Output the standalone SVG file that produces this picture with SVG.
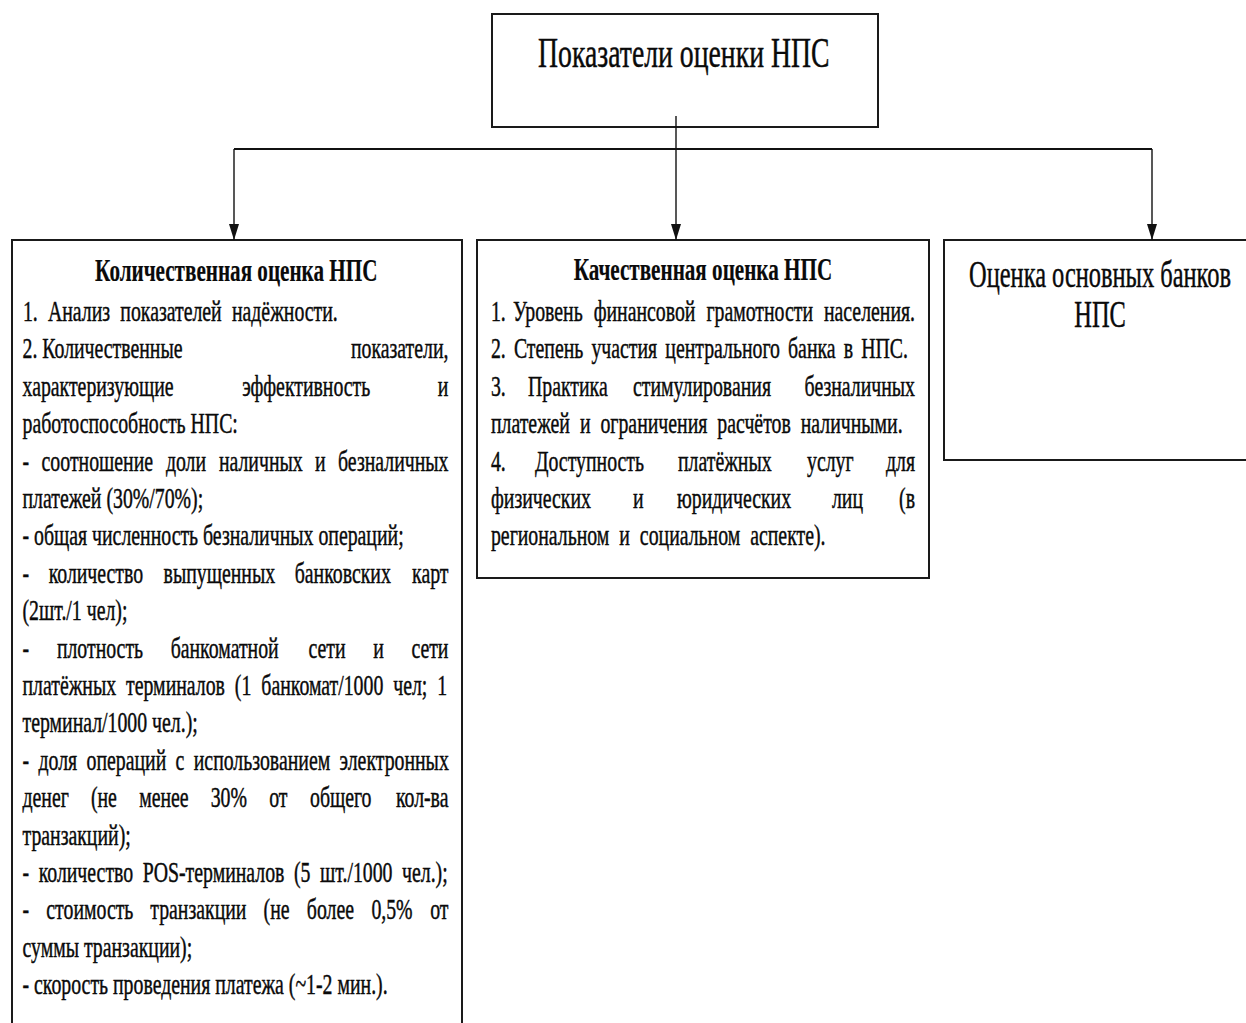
<svg xmlns="http://www.w3.org/2000/svg" width="1246" height="1023" viewBox="0 0 1246 1023">
  <style>
    .box { fill: #ffffff; stroke: #1a1a1a; stroke-width: 2; }
    .link { fill: none; stroke: #111111; stroke-width: 1.4; }
    .bar { fill: none; stroke: #111111; stroke-width: 2; }
    text { font-family: "Liberation Serif", "Times New Roman", serif; fill: #0a0a0a; stroke: #0a0a0a; stroke-width: 0.45px; }
    .title { font-size: 42px; text-anchor: middle; }
    .head { font-size: 32px; font-weight: bold; text-anchor: middle; stroke-width: 0.2px; }
    .side { font-size: 37px; text-anchor: middle; }
    .body { font-size: 30px; }
    .end { text-anchor: end; }
  </style>
  <defs>
    <marker id="arrow" viewBox="0 0 16 10" refX="16" refY="5" markerWidth="16" markerHeight="10" markerUnits="userSpaceOnUse" orient="auto">
      <path d="M0,0 L16,5 L0,10 z" fill="#111111"/>
    </marker>
  </defs>

  <rect width="1246" height="1023" fill="#ffffff"/>

  <!-- node boxes -->
  <g id="node-root">
    <rect class="box" x="492" y="14" width="386" height="113"/>
  </g>
  <g id="node-quant">
    <rect class="box" x="12" y="240" width="450" height="810"/>
  </g>
  <g id="node-qual">
    <rect class="box" x="477" y="240" width="452" height="338"/>
  </g>
  <g id="node-banks">
    <rect class="box" x="944" y="240" width="330" height="220"/>
  </g>

  <!-- connectors -->
  <g id="connectors">
    <path class="bar" d="M234,149 H1152"/>
    <path class="link" d="M676,116 V240" marker-end="url(#arrow)"/>
    <path class="link" d="M234,149 V240" marker-end="url(#arrow)"/>
    <path class="link" d="M1152,149 V240" marker-end="url(#arrow)"/>
  </g>

  <!-- all text uses a condensed serif: horizontal scale 0.66; justified lines place words explicitly -->
  <g transform="scale(0.66 1)">
    <g id="label-root">
      <text class="title" x="1036" y="67">Показатели оценки НПС</text>
    </g>

    <g id="label-quant">
      <text class="head" x="358" y="281">Количественная оценка НПС</text>
      <text class="body" y="321" word-spacing="8"><tspan x="34.8">1.</tspan><tspan x="72.7">Анализ показателей надёжности.</tspan></text>
      <text class="body" y="358.4"><tspan x="34.1">2. Количественные</tspan><tspan class="end" x="679.5">показатели,</tspan></text>
      <text class="body" y="395.8"><tspan x="34.1">характеризующие</tspan><tspan x="367">эффективность</tspan><tspan class="end" x="679.5">и</tspan></text>
      <text class="body" y="433.2" x="34.1">работоспособность НПС:</text>
      <text class="body" y="470.6"><tspan x="34.1">-</tspan><tspan x="63">соотношение</tspan><tspan x="251.4">доли</tspan><tspan x="331.7">наличных</tspan><tspan x="477.3">и</tspan><tspan class="end" x="679.5">безналичных</tspan></text>
      <text class="body" y="508" x="34.1">платежей (30%/70%);</text>
      <text class="body" y="545.4" x="34.1">- общая численность безналичных операций;</text>
      <text class="body" y="582.8"><tspan x="34.1">-</tspan><tspan x="73.7">количество</tspan><tspan x="247.9">выпущенных</tspan><tspan x="446.6">банковских</tspan><tspan class="end" x="679.5">карт</tspan></text>
      <text class="body" y="620.2" x="34.1">(2шт./1 чел);</text>
      <text class="body" y="657.6"><tspan x="34.1">-</tspan><tspan x="86.2">плотность</tspan><tspan x="258.6">банкоматной</tspan><tspan x="467.4">сети</tspan><tspan x="565.5">и</tspan><tspan class="end" x="679.5">сети</tspan></text>
      <text class="body" y="695" x="34.1" word-spacing="7.6">платёжных терминалов (1 банкомат/1000 чел; 1</text>
      <text class="body" y="732.4" x="34.1">терминал/1000 чел.);</text>
      <text class="body" y="769.8" x="34.1" word-spacing="6.7">- доля операций с использованием электронных</text>
      <text class="body" y="807.2"><tspan x="34.1">денег</tspan><tspan x="137.7">(не</tspan><tspan x="210.8">менее</tspan><tspan x="319.2">30%</tspan><tspan x="407.9">от</tspan><tspan x="469.7">общего</tspan><tspan class="end" x="679.5">кол-ва</tspan></text>
      <text class="body" y="844.6" x="34.1">транзакций);</text>
      <text class="body" y="882" x="34.1" word-spacing="7">- количество POS-терминалов (5 шт./1000 чел.);</text>
      <text class="body" y="919.4"><tspan x="34.1">-</tspan><tspan x="70.2">стоимость</tspan><tspan x="227.7">транзакции</tspan><tspan x="399.4">(не</tspan><tspan x="464.9">более</tspan><tspan x="562.7">0,5%</tspan><tspan class="end" x="679.5">от</tspan></text>
      <text class="body" y="956.8" x="34.1">суммы транзакции);</text>
      <text class="body" y="994.2" x="34.1">- скорость проведения платежа (~1-2 мин.).</text>
    </g>

    <g id="label-qual">
      <text class="head" x="1065" y="280">Качественная оценка НПС</text>
      <text class="body" y="321" word-spacing="9.1"><tspan x="743.9">1.</tspan><tspan x="777.3">Уровень финансовой грамотности населения.</tspan></text>
      <text class="body" y="358.4" x="743.9" word-spacing="4.8">2. Степень участия центрального банка в НПС.</text>
      <text class="body" y="395.8"><tspan x="743.9">3.</tspan><tspan x="800">Практика</tspan><tspan x="959.1">стимулирования</tspan><tspan class="end" x="1386.4">безналичных</tspan></text>
      <text class="body" y="433.2" x="743.9" word-spacing="7.6">платежей и ограничения расчётов наличными.</text>
      <text class="body" y="470.6"><tspan x="743.9">4.</tspan><tspan x="810.6">Доступность</tspan><tspan x="1027.3">платёжных</tspan><tspan x="1222.7">услуг</tspan><tspan class="end" x="1386.4">для</tspan></text>
      <text class="body" y="508"><tspan x="743.9">физических</tspan><tspan x="959.1">и</tspan><tspan x="1025.8">юридических</tspan><tspan x="1260.6">лиц</tspan><tspan class="end" x="1386.4">(в</tspan></text>
      <text class="body" y="545.4" x="743.9" word-spacing="7.6">региональном и социальном аспекте).</text>
    </g>

    <g id="label-banks">
      <text class="side" x="1666.7" y="287">Оценка основных банков</text>
      <text class="side" x="1666.7" y="327">НПС</text>
    </g>
  </g>
</svg>
